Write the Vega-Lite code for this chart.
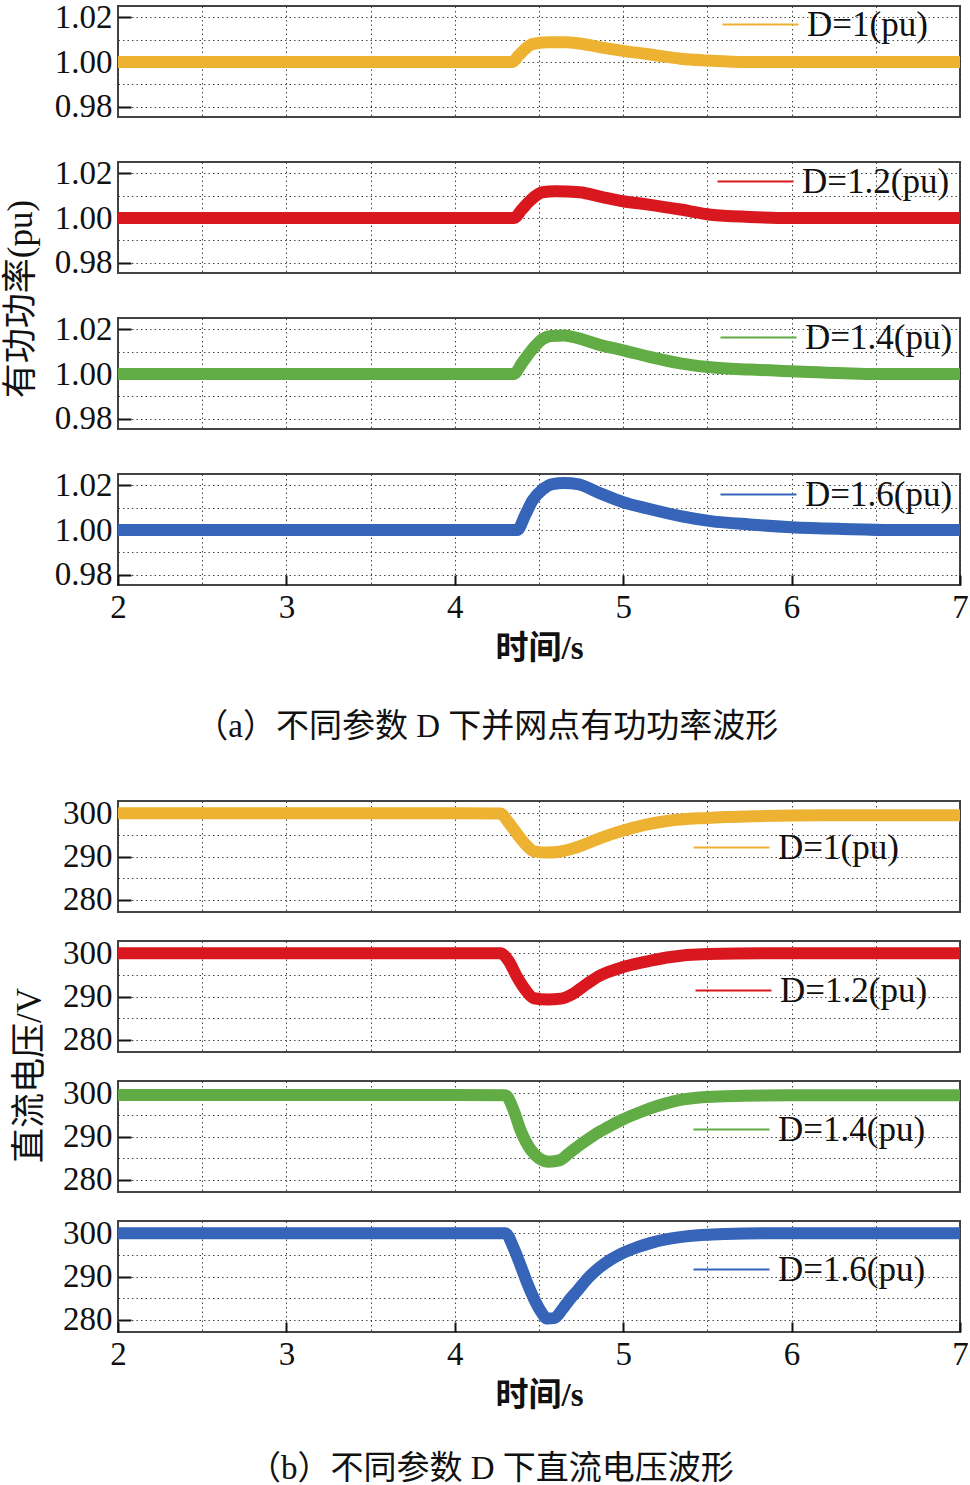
{
  "$schema": "https://vega.github.io/schema/vega-lite/v6.json",
  "padding": {"left": 4, "top": 0, "right": 5, "bottom": 0},
  "background": "white",
  "datasets": {
    "a1": [
      {"t": 2.0, "v": 1.0}, {"t": 3.0, "v": 1.0}, {"t": 4.0, "v": 1.0}, {"t": 4.34, "v": 1.0},
      {"t": 4.38, "v": 1.003}, {"t": 4.42, "v": 1.006}, {"t": 4.46, "v": 1.008}, {"t": 4.55, "v": 1.0088},
      {"t": 4.65, "v": 1.0088}, {"t": 4.74, "v": 1.0083}, {"t": 4.85, "v": 1.0068}, {"t": 5.0, "v": 1.005},
      {"t": 5.15, "v": 1.0035}, {"t": 5.34, "v": 1.0015}, {"t": 5.5, "v": 1.0007}, {"t": 5.73, "v": 1.0},
      {"t": 6.5, "v": 1.0}, {"t": 7.0, "v": 1.0}
    ],
    "a2": [
      {"t": 2.0, "v": 1.0}, {"t": 3.0, "v": 1.0}, {"t": 4.0, "v": 1.0}, {"t": 4.35, "v": 1.0},
      {"t": 4.4, "v": 1.004}, {"t": 4.45, "v": 1.008}, {"t": 4.52, "v": 1.0115}, {"t": 4.6, "v": 1.012},
      {"t": 4.74, "v": 1.0115}, {"t": 4.87, "v": 1.0095}, {"t": 5.0, "v": 1.0075}, {"t": 5.15, "v": 1.006},
      {"t": 5.34, "v": 1.0038}, {"t": 5.52, "v": 1.0015}, {"t": 5.75, "v": 1.0005}, {"t": 6.0, "v": 1.0},
      {"t": 6.5, "v": 1.0}, {"t": 7.0, "v": 1.0}
    ],
    "a3": [
      {"t": 2.0, "v": 1.0}, {"t": 3.0, "v": 1.0}, {"t": 4.0, "v": 1.0}, {"t": 4.35, "v": 1.0},
      {"t": 4.4, "v": 1.005}, {"t": 4.46, "v": 1.011}, {"t": 4.52, "v": 1.0155}, {"t": 4.57, "v": 1.017},
      {"t": 4.65, "v": 1.0172}, {"t": 4.73, "v": 1.016}, {"t": 4.86, "v": 1.013}, {"t": 5.0, "v": 1.0106},
      {"t": 5.15, "v": 1.0078}, {"t": 5.34, "v": 1.0048}, {"t": 5.52, "v": 1.003}, {"t": 5.75, "v": 1.002},
      {"t": 6.0, "v": 1.0013}, {"t": 6.5, "v": 1.0}, {"t": 7.0, "v": 1.0}
    ],
    "a4": [
      {"t": 2.0, "v": 1.0}, {"t": 3.0, "v": 1.0}, {"t": 4.0, "v": 1.0}, {"t": 4.37, "v": 1.0},
      {"t": 4.42, "v": 1.007}, {"t": 4.46, "v": 1.013}, {"t": 4.52, "v": 1.018}, {"t": 4.58, "v": 1.0205},
      {"t": 4.65, "v": 1.021}, {"t": 4.73, "v": 1.0205}, {"t": 4.86, "v": 1.0165}, {"t": 5.0, "v": 1.0124},
      {"t": 5.15, "v": 1.0095}, {"t": 5.34, "v": 1.0062}, {"t": 5.52, "v": 1.004}, {"t": 5.75, "v": 1.0025},
      {"t": 6.0, "v": 1.0013}, {"t": 6.3, "v": 1.0005}, {"t": 6.6, "v": 1.0}, {"t": 7.0, "v": 1.0}
    ],
    "b1": [
      {"t": 2.0, "v": 300.0}, {"t": 3.0, "v": 300.0}, {"t": 4.0, "v": 300.0}, {"t": 4.27, "v": 299.9},
      {"t": 4.32, "v": 297.8}, {"t": 4.37, "v": 295.2}, {"t": 4.42, "v": 292.8}, {"t": 4.47, "v": 291.2},
      {"t": 4.55, "v": 290.9}, {"t": 4.62, "v": 291.1}, {"t": 4.68, "v": 291.6}, {"t": 4.73, "v": 292.2},
      {"t": 4.86, "v": 294.2}, {"t": 5.0, "v": 296.0}, {"t": 5.13, "v": 297.3}, {"t": 5.26, "v": 298.2},
      {"t": 5.5, "v": 298.9}, {"t": 5.8, "v": 299.3}, {"t": 6.2, "v": 299.5}, {"t": 7.0, "v": 299.5}
    ],
    "b2": [
      {"t": 2.0, "v": 300.0}, {"t": 3.0, "v": 300.0}, {"t": 4.0, "v": 300.0}, {"t": 4.27, "v": 300.0},
      {"t": 4.32, "v": 298.2}, {"t": 4.37, "v": 294.5}, {"t": 4.42, "v": 291.5}, {"t": 4.47, "v": 289.6},
      {"t": 4.55, "v": 289.3}, {"t": 4.63, "v": 289.5}, {"t": 4.7, "v": 290.6}, {"t": 4.78, "v": 292.8},
      {"t": 4.86, "v": 294.8}, {"t": 5.0, "v": 296.8}, {"t": 5.13, "v": 298.0}, {"t": 5.26, "v": 299.0},
      {"t": 5.5, "v": 299.8}, {"t": 6.0, "v": 300.0}, {"t": 7.0, "v": 300.0}
    ],
    "b3": [
      {"t": 2.0, "v": 299.6}, {"t": 3.0, "v": 299.6}, {"t": 4.0, "v": 299.6}, {"t": 4.3, "v": 299.5},
      {"t": 4.35, "v": 296.0}, {"t": 4.39, "v": 291.5}, {"t": 4.45, "v": 287.0}, {"t": 4.5, "v": 285.0},
      {"t": 4.56, "v": 284.2}, {"t": 4.62, "v": 284.5}, {"t": 4.68, "v": 286.2}, {"t": 4.73, "v": 287.7},
      {"t": 4.8, "v": 289.6}, {"t": 4.86, "v": 291.1}, {"t": 4.93, "v": 292.6}, {"t": 4.99, "v": 293.8},
      {"t": 5.08, "v": 295.3}, {"t": 5.16, "v": 296.5}, {"t": 5.26, "v": 297.7}, {"t": 5.36, "v": 298.6},
      {"t": 5.6, "v": 299.3}, {"t": 6.0, "v": 299.5}, {"t": 7.0, "v": 299.5}
    ],
    "b4": [
      {"t": 2.0, "v": 300.0}, {"t": 3.0, "v": 300.0}, {"t": 4.0, "v": 300.0}, {"t": 4.3, "v": 300.0},
      {"t": 4.35, "v": 296.5}, {"t": 4.39, "v": 292.6}, {"t": 4.43, "v": 288.5}, {"t": 4.47, "v": 284.9},
      {"t": 4.51, "v": 282.0}, {"t": 4.55, "v": 280.3}, {"t": 4.59, "v": 280.4}, {"t": 4.64, "v": 282.5},
      {"t": 4.68, "v": 284.6}, {"t": 4.73, "v": 286.8}, {"t": 4.79, "v": 289.6}, {"t": 4.86, "v": 292.1},
      {"t": 4.93, "v": 294.0}, {"t": 4.99, "v": 295.3}, {"t": 5.08, "v": 296.7}, {"t": 5.16, "v": 297.7},
      {"t": 5.26, "v": 298.6}, {"t": 5.36, "v": 299.2}, {"t": 5.6, "v": 299.8}, {"t": 6.0, "v": 300.0},
      {"t": 7.0, "v": 300.0}
    ]
  },
  "config": {
    "font": "Liberation Serif, Noto Sans CJK SC",
    "view": {"stroke": "#444", "strokeWidth": 2},
    "axis": {
      "domain": false,
      "grid": true,
      "gridColor": "#333",
      "gridDash": [1.5, 3],
      "gridWidth": 1,
      "gridOpacity": 0.9,
      "tickColor": "#111",
      "tickWidth": 2,
      "labelFont": "Liberation Serif",
      "labelFontSize": 33,
      "labelColor": "#111",
      "labelFlush": false,
      "titleFont": "Liberation Serif, Noto Sans CJK SC",
      "titleColor": "#111"
    },
    "legend": {
      "orient": "none",
      "title": null,
      "symbolType": "M-4,0H4",
      "symbolSize": 361,
      "symbolStrokeWidth": 2,
      "labelFont": "Liberation Serif",
      "labelFontSize": 35,
      "labelColor": "#111",
      "labelOffset": 29,
      "padding": 0
    },
    "title": {"font": "Liberation Serif, Noto Sans CJK SC", "color": "#111", "fontWeight": "normal"}
  },
  "spacing": 52,
  "resolve": {"scale": {"x": "independent", "y": "independent", "color": "independent"}, "legend": {"color": "independent"}},
  "vconcat": [
    {
      "title": {"text": "（a）不同参数 D 下并网点有功功率波形", "orient": "bottom", "anchor": "middle", "frame": "bounds", "fontSize": 33, "offset": 45, "dx": 0},
      "resolve": {"scale": {"x": "independent", "y": "independent", "color": "independent"}, "legend": {"color": "independent"}},
      "vconcat": [
        {
          "title": {"text": "有功功率(pu)", "orient": "left", "anchor": "middle", "fontSize": 35, "offset": 14, "dx": 34},
          "spacing": 45,
          "bounds": "flush",
          "resolve": {"scale": {"x": "independent", "y": "independent", "color": "independent"}, "legend": {"color": "independent"}},
          "vconcat": [
            {
              "width": 842, "height": 111,
              "data": {"name": "a1"},
              "mark": {"type": "line", "strokeWidth": 12, "clip": true, "interpolate": "monotone"},
              "encoding": {
                "x": {"field": "t", "type": "quantitative", "scale": {"domain": [2, 7], "nice": false},
                  "axis": {"values": [2, 2.5, 3, 3.5, 4, 4.5, 5, 5.5, 6, 6.5, 7], "labels": false, "ticks": false, "title": null}},
                "y": {"field": "v", "type": "quantitative", "scale": {"domain": [0.9755, 1.025], "nice": false, "zero": false},
                  "axis": {"values": [0.98, 0.99, 1.0, 1.01, 1.02], "title": null, "tickSize": -13, "labelPadding": 19,
                    "labelExpr": "round(datum.value*100) % 2 ? '' : format(datum.value, '.2f')",
                    "tickOpacity": {"condition": {"test": "round(datum.value*100) % 2", "value": 0}, "value": 1}}},
                "color": {"datum": "D=1(pu)", "type": "nominal", "scale": {"range": ["#EDB232"]},
                  "legend": {"legendX": 625, "legendY": 1}}
              }
            },
            {
              "width": 842, "height": 111,
              "data": {"name": "a2"},
              "mark": {"type": "line", "strokeWidth": 12, "clip": true, "interpolate": "monotone"},
              "encoding": {
                "x": {"field": "t", "type": "quantitative", "scale": {"domain": [2, 7], "nice": false},
                  "axis": {"values": [2, 2.5, 3, 3.5, 4, 4.5, 5, 5.5, 6, 6.5, 7], "labels": false, "ticks": false, "title": null}},
                "y": {"field": "v", "type": "quantitative", "scale": {"domain": [0.9755, 1.025], "nice": false, "zero": false},
                  "axis": {"values": [0.98, 0.99, 1.0, 1.01, 1.02], "title": null, "tickSize": -13, "labelPadding": 19,
                    "labelExpr": "round(datum.value*100) % 2 ? '' : format(datum.value, '.2f')",
                    "tickOpacity": {"condition": {"test": "round(datum.value*100) % 2", "value": 0}, "value": 1}}},
                "color": {"datum": "D=1.2(pu)", "type": "nominal", "scale": {"range": ["#D9171E"]},
                  "legend": {"legendX": 620, "legendY": 2}}
              }
            },
            {
              "width": 842, "height": 111,
              "data": {"name": "a3"},
              "mark": {"type": "line", "strokeWidth": 12, "clip": true, "interpolate": "monotone"},
              "encoding": {
                "x": {"field": "t", "type": "quantitative", "scale": {"domain": [2, 7], "nice": false},
                  "axis": {"values": [2, 2.5, 3, 3.5, 4, 4.5, 5, 5.5, 6, 6.5, 7], "labels": false, "ticks": false, "title": null}},
                "y": {"field": "v", "type": "quantitative", "scale": {"domain": [0.9755, 1.025], "nice": false, "zero": false},
                  "axis": {"values": [0.98, 0.99, 1.0, 1.01, 1.02], "title": null, "tickSize": -13, "labelPadding": 19,
                    "labelExpr": "round(datum.value*100) % 2 ? '' : format(datum.value, '.2f')",
                    "tickOpacity": {"condition": {"test": "round(datum.value*100) % 2", "value": 0}, "value": 1}}},
                "color": {"datum": "D=1.4(pu)", "type": "nominal", "scale": {"range": ["#62AC45"]},
                  "legend": {"legendX": 623, "legendY": 2}}
              }
            },
            {
              "width": 842, "height": 111,
              "data": {"name": "a4"},
              "mark": {"type": "line", "strokeWidth": 12, "clip": true, "interpolate": "monotone"},
              "encoding": {
                "x": {"field": "t", "type": "quantitative", "scale": {"domain": [2, 7], "nice": false},
                  "axis": {"values": [2, 2.5, 3, 3.5, 4, 4.5, 5, 5.5, 6, 6.5, 7], "title": "时间/s", "titleFontSize": 33, "titleFontWeight": "bold", "titlePadding": 8,
                    "tickSize": -10, "labelPadding": 16,
                    "labelExpr": "datum.value % 1 ? '' : format(datum.value, 'd')",
                    "tickOpacity": {"condition": {"test": "datum.value % 1", "value": 0}, "value": 1}}},
                "y": {"field": "v", "type": "quantitative", "scale": {"domain": [0.9755, 1.025], "nice": false, "zero": false},
                  "axis": {"values": [0.98, 0.99, 1.0, 1.01, 1.02], "title": null, "tickSize": -13, "labelPadding": 19,
                    "labelExpr": "round(datum.value*100) % 2 ? '' : format(datum.value, '.2f')",
                    "tickOpacity": {"condition": {"test": "round(datum.value*100) % 2", "value": 0}, "value": 1}}},
                "color": {"datum": "D=1.6(pu)", "type": "nominal", "scale": {"range": ["#3564B8"]},
                  "legend": {"legendX": 623, "legendY": 3}}
              }
            }
          ]
        }
      ]
    },
    {
      "title": {"text": "（b）不同参数 D 下直流电压波形", "orient": "bottom", "anchor": "middle", "frame": "bounds", "fontSize": 33, "offset": 40, "dx": 0},
      "resolve": {"scale": {"x": "independent", "y": "independent", "color": "independent"}, "legend": {"color": "independent"}},
      "vconcat": [
        {
          "title": {"text": "直流电压/V", "orient": "left", "anchor": "middle", "fontSize": 35, "offset": 14, "dx": 29},
          "spacing": 29,
          "bounds": "flush",
          "resolve": {"scale": {"x": "independent", "y": "independent", "color": "independent"}, "legend": {"color": "independent"}},
          "vconcat": [
            {
              "width": 842, "height": 111,
              "data": {"name": "b1"},
              "mark": {"type": "line", "strokeWidth": 12, "clip": true, "interpolate": "monotone"},
              "encoding": {
                "x": {"field": "t", "type": "quantitative", "scale": {"domain": [2, 7], "nice": false},
                  "axis": {"values": [2, 2.5, 3, 3.5, 4, 4.5, 5, 5.5, 6, 6.5, 7], "labels": false, "ticks": false, "title": null}},
                "y": {"field": "v", "type": "quantitative", "scale": {"domain": [277.2, 302.8], "nice": false, "zero": false},
                  "axis": {"values": [280, 285, 290, 295, 300], "title": null, "tickSize": -13, "labelPadding": 19,
                    "labelExpr": "datum.value % 10 ? '' : datum.label",
                    "tickOpacity": {"condition": {"test": "datum.value % 10", "value": 0}, "value": 1}}},
                "color": {"datum": "D=1(pu)", "type": "nominal", "scale": {"range": ["#EDB232"]},
                  "legend": {"legendX": 596, "legendY": 29}}
              }
            },
            {
              "width": 842, "height": 111,
              "data": {"name": "b2"},
              "mark": {"type": "line", "strokeWidth": 12, "clip": true, "interpolate": "monotone"},
              "encoding": {
                "x": {"field": "t", "type": "quantitative", "scale": {"domain": [2, 7], "nice": false},
                  "axis": {"values": [2, 2.5, 3, 3.5, 4, 4.5, 5, 5.5, 6, 6.5, 7], "labels": false, "ticks": false, "title": null}},
                "y": {"field": "v", "type": "quantitative", "scale": {"domain": [277.2, 302.8], "nice": false, "zero": false},
                  "axis": {"values": [280, 285, 290, 295, 300], "title": null, "tickSize": -13, "labelPadding": 19,
                    "labelExpr": "datum.value % 10 ? '' : datum.label",
                    "tickOpacity": {"condition": {"test": "datum.value % 10", "value": 0}, "value": 1}}},
                "color": {"datum": "D=1.2(pu)", "type": "nominal", "scale": {"range": ["#D9171E"]},
                  "legend": {"legendX": 598, "legendY": 32}}
              }
            },
            {
              "width": 842, "height": 111,
              "data": {"name": "b3"},
              "mark": {"type": "line", "strokeWidth": 12, "clip": true, "interpolate": "monotone"},
              "encoding": {
                "x": {"field": "t", "type": "quantitative", "scale": {"domain": [2, 7], "nice": false},
                  "axis": {"values": [2, 2.5, 3, 3.5, 4, 4.5, 5, 5.5, 6, 6.5, 7], "labels": false, "ticks": false, "title": null}},
                "y": {"field": "v", "type": "quantitative", "scale": {"domain": [277.2, 302.8], "nice": false, "zero": false},
                  "axis": {"values": [280, 285, 290, 295, 300], "title": null, "tickSize": -13, "labelPadding": 19,
                    "labelExpr": "datum.value % 10 ? '' : datum.label",
                    "tickOpacity": {"condition": {"test": "datum.value % 10", "value": 0}, "value": 1}}},
                "color": {"datum": "D=1.4(pu)", "type": "nominal", "scale": {"range": ["#62AC45"]},
                  "legend": {"legendX": 596, "legendY": 31}}
              }
            },
            {
              "width": 842, "height": 111,
              "data": {"name": "b4"},
              "mark": {"type": "line", "strokeWidth": 12, "clip": true, "interpolate": "monotone"},
              "encoding": {
                "x": {"field": "t", "type": "quantitative", "scale": {"domain": [2, 7], "nice": false},
                  "axis": {"values": [2, 2.5, 3, 3.5, 4, 4.5, 5, 5.5, 6, 6.5, 7], "title": "时间/s", "titleFontSize": 33, "titleFontWeight": "bold", "titlePadding": 8,
                    "tickSize": -10, "labelPadding": 16,
                    "labelExpr": "datum.value % 1 ? '' : format(datum.value, 'd')",
                    "tickOpacity": {"condition": {"test": "datum.value % 1", "value": 0}, "value": 1}}},
                "y": {"field": "v", "type": "quantitative", "scale": {"domain": [277.2, 302.8], "nice": false, "zero": false},
                  "axis": {"values": [280, 285, 290, 295, 300], "title": null, "tickSize": -13, "labelPadding": 19,
                    "labelExpr": "datum.value % 10 ? '' : datum.label",
                    "tickOpacity": {"condition": {"test": "datum.value % 10", "value": 0}, "value": 1}}},
                "color": {"datum": "D=1.6(pu)", "type": "nominal", "scale": {"range": ["#3564B8"]},
                  "legend": {"legendX": 596, "legendY": 31}}
              }
            }
          ]
        }
      ]
    }
  ]
}
